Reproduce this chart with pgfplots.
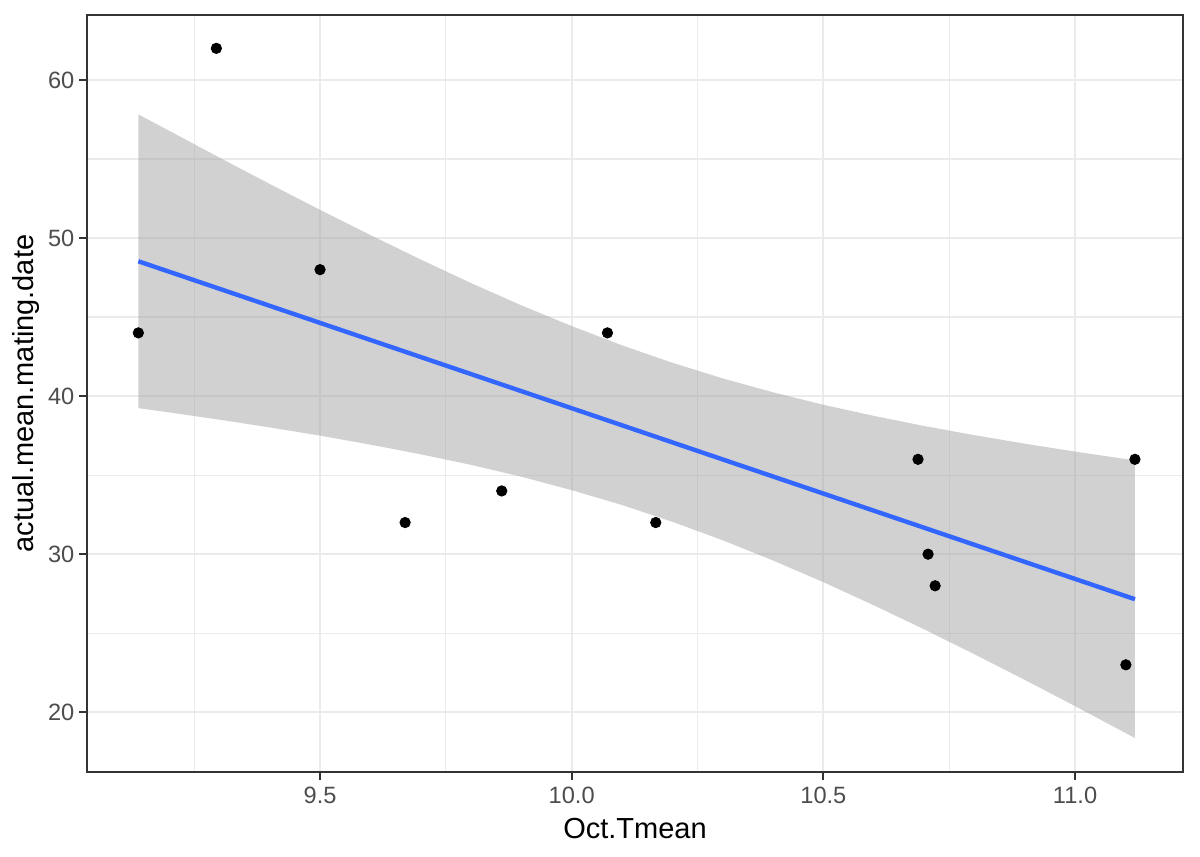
\documentclass[border=0pt]{standalone}
\usepackage{pgfplots}
\pgfplotsset{compat=1.18}
\usepackage{fontspec}
\setmainfont{Liberation Sans}
\definecolor{gridc}{HTML}{EBEBEB}
\definecolor{tickc}{HTML}{4D4D4D}
\definecolor{borderc}{HTML}{333333}
\definecolor{bandc}{HTML}{999999}
\definecolor{linec}{HTML}{3366FF}
\begin{document}
\begin{tikzpicture}
\path[use as bounding box] (0,0) rectangle (600pt,428.5pt);
\begin{axis}[
  at={(43.5pt,42.5pt)}, anchor=south west,
  scale only axis, width=548pt, height=378.5pt,
  xmin=9.037, xmax=11.2145, ymin=16.22, ymax=64.11,
  xtick={9.5,10.0,10.5,11.0},
  xticklabels={9.5,10.0,10.5,11.0},
  ytick={20,30,40,50,60},
  minor xtick={9.25,9.75,10.25,10.75},
  minor ytick={25,35,45,55},
  grid=both,
  major grid style={draw=gridc, line width=1.1pt},
  minor grid style={draw=gridc, line width=0.6pt},
  axis line style={draw=borderc, line width=1pt},
  tick align=outside,
  major tick length=3.8pt,
  minor tick length=0pt,
  tick style={draw=borderc, line width=1pt},
  xtick pos=bottom, ytick pos=left,
  /pgf/number format/assume math mode=true,
  tick label style={font=\fontsize{11.8}{13}\selectfont, text=tickc},
  xticklabel style={yshift=0pt},
  yticklabel style={xshift=1pt},
  label style={font=\fontsize{14.5}{16}\selectfont, text=black},
  xlabel={Oct.Tmean},
  ylabel={actual.mean.mating.date},
  xlabel style={yshift=-0.5pt},
  ylabel style={yshift=-2.5pt},
]
\addplot[only marks, mark=*, mark size=2.6pt, mark options={fill=black, draw=black}] coordinates {
(9.139,44) (9.294,62) (9.5,48) (9.669,32) (9.861,34) (10.071,44)
(10.167,32) (10.688,36) (10.708,30) (10.722,28) (11.101,23) (11.119,36)
};
\addplot[draw=none, fill=bandc, fill opacity=0.45] coordinates {
(9.139,57.82) (9.2,56.79) (9.3,55.09) (9.4,53.42) (9.5,51.78) (9.6,50.19)
(9.7,48.64) (9.8,47.15) (9.9,45.74) (10.0,44.43) (10.1,43.21) (10.2,42.11)
(10.3,41.12) (10.4,40.24) (10.5,39.45) (10.6,38.75) (10.7,38.11) (10.8,37.53)
(10.9,36.99) (11.0,36.49) (11.119,35.93)
(11.119,18.37) (11.0,20.39) (10.9,22.05) (10.8,23.67) (10.7,25.25) (10.6,26.77)
(10.5,28.23) (10.4,29.60) (10.3,30.88) (10.2,32.05) (10.1,33.11) (10.0,34.05)
(9.9,34.90) (9.8,35.65) (9.7,36.32) (9.6,36.93) (9.5,37.50) (9.4,38.02)
(9.3,38.51) (9.2,38.97) (9.139,39.24)
};
\addplot[linec, line width=2.2pt] coordinates {(9.139,48.53) (11.119,27.15)};
\end{axis}
\end{tikzpicture}
\end{document}
